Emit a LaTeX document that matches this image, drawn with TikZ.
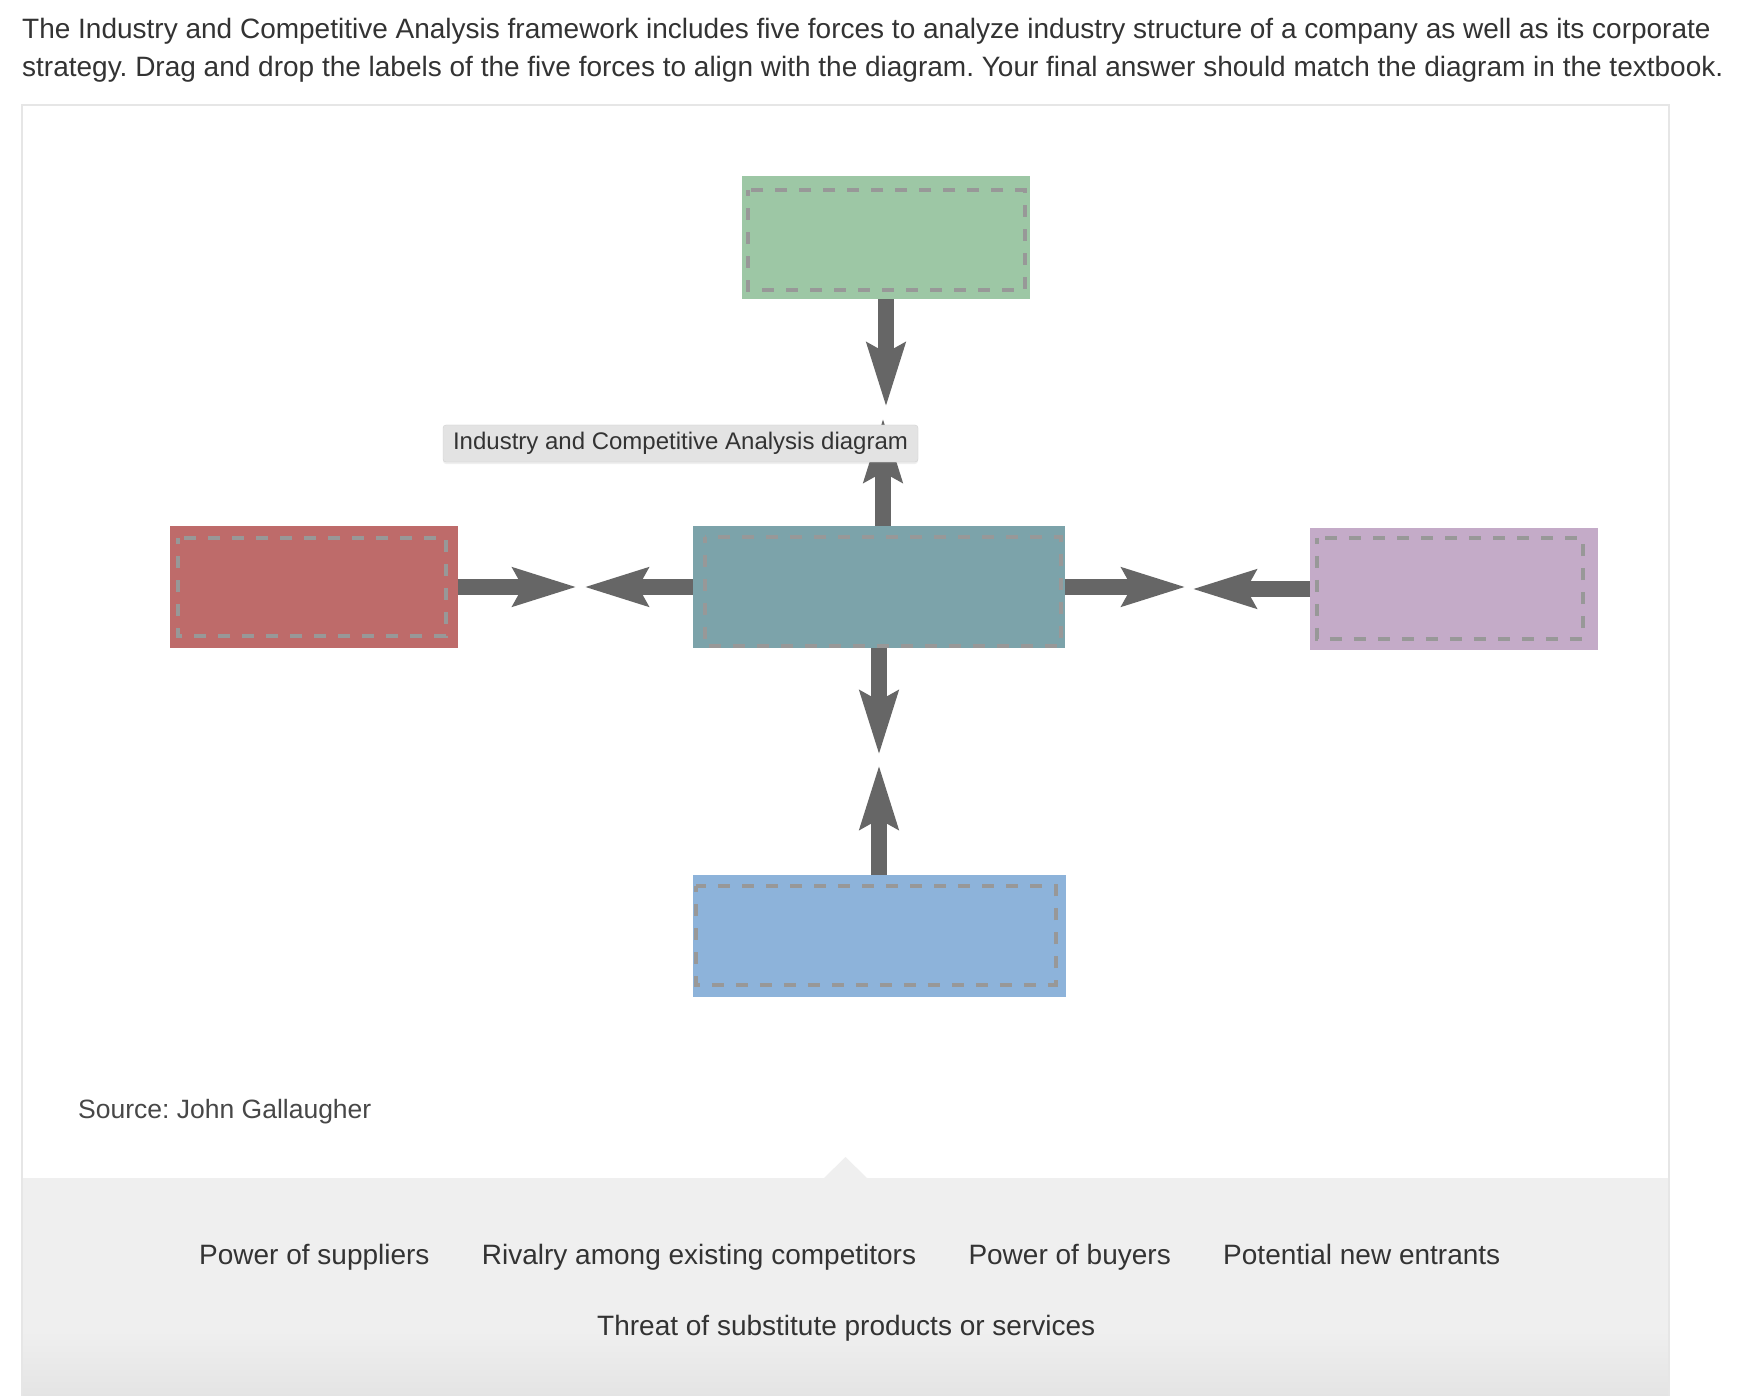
\documentclass[tikz,border=0pt]{standalone}
\usepackage{fontspec}
\setmainfont{Liberation Sans}
\usetikzlibrary{arrows.meta,positioning,shadows}
\frenchspacing

\definecolor{inkgray}{HTML}{333333}
\definecolor{entrgreen}{HTML}{9DC7A5}
\definecolor{supred}{HTML}{BE6B6A}
\definecolor{rivteal}{HTML}{7CA3AA}
\definecolor{buypurple}{HTML}{C4ABC8}
\definecolor{subblue}{HTML}{8DB3DA}
\definecolor{arrgray}{HTML}{666666}
\definecolor{slotgray}{HTML}{989898}
\definecolor{panelgray}{HTML}{EFEFEF}
\definecolor{paneldark}{HTML}{E4E4E4}
\definecolor{framegray}{HTML}{E6E6E6}
\definecolor{hintfill}{HTML}{E3E3E3}
\definecolor{hintline}{HTML}{D2D2D2}

\begin{document}
\begin{tikzpicture}[
  x=1pt, y=-1pt,
  force/.style={minimum width=288pt, minimum height=122pt, inner sep=0pt},
  slot/.style={draw=slotgray, line width=4pt, dash pattern=on 12pt off 12pt, dash phase=6pt},
  push/.style={draw=arrgray, line width=16pt, -{Stealth[length=63pt, width=37pt, inset=9pt, fill=arrgray]}},
  question/.style={anchor=base west, inner sep=0pt, text=inkgray, font=\fontsize{28}{32}\selectfont},
  chip/.style={inner sep=0pt, text=inkgray, font=\fontsize{28}{32}\selectfont},
  hint/.style={draw=hintline, fill=hintfill, rounded corners=3pt, minimum width=475pt, minimum height=37pt,
    inner sep=0pt, text=inkgray, font=\fontsize{24}{28}\selectfont,
    drop shadow={opacity=0.12, shadow xshift=0pt, shadow yshift=-2pt}}
]
\useasboundingbox (0,0) rectangle (1762,1396);
\fill[white] (0,0) rectangle (1762,1396);

% ---------- QUESTION ----------
\node[question] (q1) at (22,39) {The Industry and Competitive Analysis framework includes five forces to analyze industry structure of a company as well as its corporate};
\node[question] (q2) at (22,77) {strategy. Drag and drop the labels of the five forces to align with the diagram. Your final answer should match the diagram in the textbook.};

% ---------- PANEL ----------
\fill[panelgray] (22,1178) rectangle (1669,1396);
\shade[top color=panelgray, bottom color=paneldark] (22,1330) rectangle (1669,1396);
\fill[panelgray] (824,1178) -- (845.5,1157) -- (867,1178) -- cycle;
\draw[framegray, line width=1.5pt] (22,1396) -- (22,105) -- (1669,105) -- (1669,1396);

% ---------- FIVE FORCES ----------
\node[force, minimum width=372pt, fill=rivteal] (riv) at (879,587) {};
\node[force, minimum height=123pt, fill=entrgreen, above=227pt of riv, xshift=7pt] (entr) {};
\node[force, fill=supred, left=235pt of riv] (supp) {};
\node[force, fill=buypurple, right=245pt of riv, yshift=-2pt] (buy) {};
\node[force, minimum width=373pt, fill=subblue, below=227pt of riv] (subs) {};

% drop slots
\foreach \n/\l/\t/\r/\b in {entr/6/15/5/9, supp/9/12/12/12, riv/12/11/4/2, buy/7/10/16/11, subs/4/11/10/13}
  \draw[slot] ([shift={(\l,\t)}]\n.north west) rectangle ([shift={(-\r,-\b)}]\n.south east);

% meeting points
\coordinate (gapN) at (884,412.5);
\coordinate (gapS) at (880,760);
\coordinate (gapW) at (580.5,587);
\coordinate (gapE) at (1189,588);

\draw[push, shorten >=5.5pt] (entr.south) -- (entr.south |- gapN);
\draw[push, shorten >=5.5pt] ([xshift=4pt]riv.north) -- ([xshift=4pt]riv.north |- gapN);
\draw[push, shorten >=5pt] (riv.south) -- (riv.south |- gapS);
\draw[push, shorten >=5pt] (subs.north) -- (subs.north |- gapS);
\draw[push, shorten >=3.5pt] (supp.east) -- (gapW);
\draw[push, shorten >=3.5pt] (riv.west) -- (gapW);
\draw[push, shorten >=3pt] (riv.east) -- (riv.east -| gapE);
\draw[push, shorten >=3pt] (buy.west) -- (buy.west -| gapE);

\node[hint] (tip) at (680.5,443.5) {Industry and Competitive Analysis diagram};

\node[anchor=base west, inner sep=0pt, text=black!72, font=\fontsize{26.5}{30}\selectfont] (src) at (78,1118) {Source: John Gallaugher};

% ---------- LABELS ----------
\node[chip, anchor=base west] (lsupp) at (199,1264) {Power of suppliers};
\node[chip, base right=52pt of lsupp] (lriv) {Rivalry among existing competitors};
\node[chip, base right=52pt of lriv] (lbuy) {Power of buyers};
\node[chip, base right=52pt of lbuy] (lentr) {Potential new entrants};
\node[chip, anchor=base west] (lsubs) at (597,1335) {Threat of substitute products or services};
\end{tikzpicture}
\end{document}
